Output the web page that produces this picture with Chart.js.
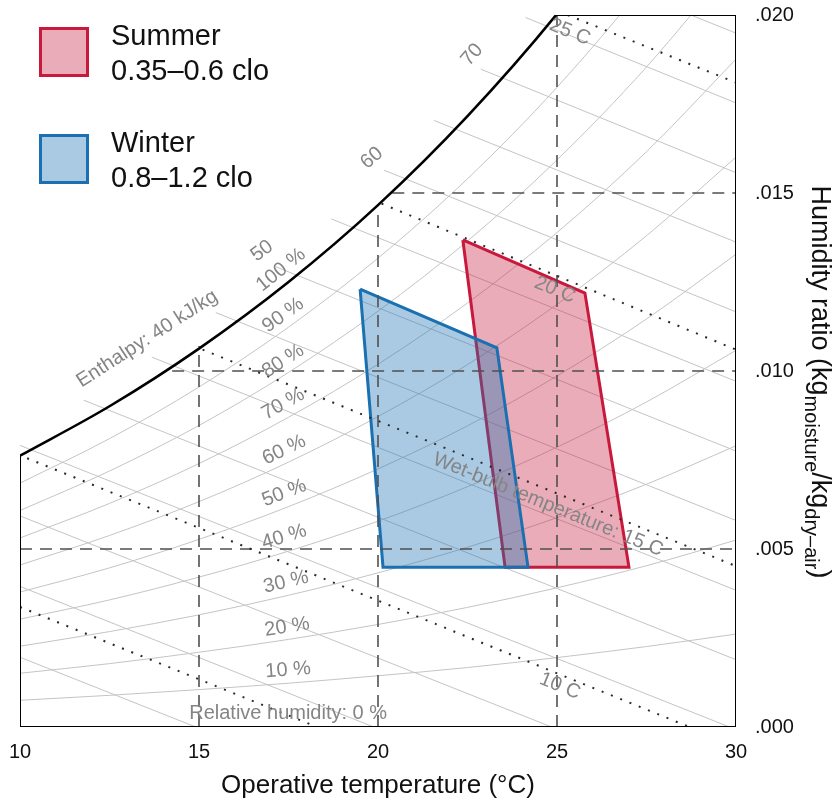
<!DOCTYPE html>
<html><head><meta charset="utf-8">
<script src="https://cdn.jsdelivr.net/npm/chart.js@4.4.1/dist/chart.umd.min.js"></script>
<style>html,body{margin:0;padding:0;background:#fff}#wrap{width:832px;height:805px}</style>
</head><body><div id="wrap"><canvas id="c" width="832" height="805"></canvas></div>
<script>
const FONT = '"Liberation Sans", Arial, Helvetica, sans-serif';

// ---- data ----
const gridTemps = [10, 12.5, 15, 17.5, 20, 22.5, 25, 27.5, 30];
const rh100 = [0.00762, 0.00901, 0.01063, 0.01250, 0.01466, 0.01716, 0.02003, 0.02334, 0.02714];
const rh90  = [0.00685, 0.00810, 0.00955, 0.01123, 0.01317, 0.01540, 0.01797, 0.02093, 0.02432];
const rh80  = [0.00608, 0.00719, 0.00847, 0.00996, 0.01168, 0.01365, 0.01593, 0.01854, 0.02153];
const rh70  = [0.00531, 0.00628, 0.00740, 0.00870, 0.01019, 0.01191, 0.01389, 0.01616, 0.01876];
const rh60  = [0.00455, 0.00538, 0.00633, 0.00744, 0.00872, 0.01018, 0.01187, 0.01380, 0.01601];
const rh50  = [0.00379, 0.00447, 0.00527, 0.00619, 0.00725, 0.00846, 0.00986, 0.01146, 0.01328];
const rh40  = [0.00303, 0.00357, 0.00421, 0.00494, 0.00578, 0.00675, 0.00786, 0.00913, 0.01058];
const rh30  = [0.00227, 0.00268, 0.00315, 0.00370, 0.00433, 0.00505, 0.00588, 0.00682, 0.00790];
const rh20  = [0.00151, 0.00178, 0.00210, 0.00246, 0.00288, 0.00336, 0.00391, 0.00453, 0.00525];
const rh10  = [0.00075, 0.00089, 0.00105, 0.00123, 0.00144, 0.00167, 0.00195, 0.00226, 0.00261];
const rhCurves = [rh90, rh80, rh70, rh60, rh50, rh40, rh30, rh20, rh10];
const rhLabels = ['100 %', '90 %', '80 %', '70 %', '60 %', '50 %', '40 %', '30 %', '20 %', '10 %'];
const rhLabelT = [17.29, 17.35, 17.35, 17.35, 17.38, 17.38, 17.38, 17.43, 17.46, 17.49];
const rhLabelW = [0.01284, 0.01157, 0.01028, 0.00907, 0.00778, 0.00657, 0.00534, 0.00407, 0.00281, 0.00160];
const rh0Label = 'Relative humidity: 0 %';
const rh0LabelT = 17.49, rh0LabelW = 0.00037;

// enthalpy lines (kJ/kg), straight segments
const enthalpyLevels = [15, 20, 25, 30, 35, 40, 45, 50, 55, 60, 65, 70, 75, 80];
const enthStartT = [10, 10, 10, 10, 11.78, 13.68, 15.47, 17.14, 18.70, 20.17, 21.56, 22.87, 24.12, 28.74];
const enthStartW = [0.00196, 0.00395, 0.00593, 0.00791, 0.00918, 0.01039, 0.01164, 0.01293, 0.01427, 0.01564, 0.01704, 0.01848, 0.01993, 0.02000];
const enthEndT   = [14.91, 19.88, 24.85, 29.82, 30, 30, 30, 30, 30, 30, 30, 30, 30, 30];
const enthEndW   = [0, 0, 0, 0, 0.00189, 0.00384, 0.00580, 0.00775, 0.00971, 0.01166, 0.01362, 0.01557, 0.01753, 0.01949];
const enthLabels = ['Enthalpy: 40 kJ/kg', '50', '60', '70'];
const enthLabelT = [13.55, 16.76, 19.83, 22.63];
const enthLabelW = [0.01090, 0.01337, 0.01598, 0.01888];

// wet-bulb lines (dotted)
const wetBulbStartT = [10, 10.2, 15.1, 20.1, 25.3];
const wetBulbStartW = [0.00337, 0.00755, 0.01060, 0.01470, 0.02000];
const wetBulbEndT   = [18.3, 28.7, 30, 30, 30];
const wetBulbEndW   = [0, 0, 0.00452, 0.01060, 0.01810];
const wetBulbLabels = ['10 C', 'Wet-bulb temperature: 15 C', '20 C', '25 C'];
const wetBulbLabelLine = [1, 2, 3, 4];
const wetBulbLabelT = [25.08, 24.75, 24.94, 25.36];
const wetBulbLabelW = [0.00115, 0.00624, 0.01228, 0.01952];

// dashed reference lines
const dashStartT = [15, 20, 25, 10, 14.25, 20.4];
const dashStartW = [0, 0, 0, 0.005, 0.010, 0.015];
const dashEndT   = [15, 20, 25, 30, 30, 30];
const dashEndW   = [0.0107, 0.0146, 0.0200, 0.005, 0.010, 0.015];

// frame (open above the saturation curve)
const frameT = [24.97, 30, 30, 10, 10];
const frameW = [0.0200, 0.0200, 0, 0, 0.00762];

// comfort zones
const summerT = [22.37, 25.78, 27.01, 23.55, 22.37];
const summerW = [0.01368, 0.01219, 0.00449, 0.00449, 0.01368];
const winterT = [19.50, 23.32, 24.19, 20.14, 19.50];
const winterW = [0.01230, 0.01065, 0.00449, 0.00449, 0.01230];
const summerLabel = ['Summer', '0.35–0.6 clo'];
const winterLabel = ['Winter', '0.8–1.2 clo'];

// x / y axis
const xTicksMin = 10, xTicksMax = 30, xTickStep = 5;
const yTicksMin = 0, yTicksMax = 0.02, yTickStep = 0.005;
const xTitle = 'Operative temperature (°C)';
const yTitleParts = ['Humidity ratio (kg', 'moisture', '/kg', 'dry–air', ')'];

// ---- build datasets ----
const pts = (T, W) => T.map((t, i) => ({x: t, y: W[i]}));
const datasets = [];
const GRAY = '#c4c4c4';

rhCurves.forEach(arr => datasets.push({
  data: pts(gridTemps, arr), showLine: true, borderColor: GRAY, borderWidth: 1,
  pointRadius: 0, cubicInterpolationMode: 'monotone', order: 10
}));
enthalpyLevels.forEach((h, i) => datasets.push({
  data: [{x: enthStartT[i], y: enthStartW[i]}, {x: enthEndT[i], y: enthEndW[i]}],
  showLine: true, borderColor: GRAY, borderWidth: 1, pointRadius: 0, order: 10
}));
const SUMMER_C = '#c8193c', WINTER_C = '#1a70b0';
datasets.push({
  label: summerLabel.join(' '), data: pts(summerT, summerW), showLine: true,
  borderColor: SUMMER_C, backgroundColor: 'rgba(200,25,60,0.36)', borderWidth: 3,
  borderJoinStyle: 'miter', fill: 'shape', pointRadius: 0, order: 7
});
datasets.push({
  label: winterLabel.join(' '), data: pts(winterT, winterW), showLine: true,
  borderColor: WINTER_C, backgroundColor: 'rgba(30,115,180,0.38)', borderWidth: 3,
  borderJoinStyle: 'miter', fill: 'shape', pointRadius: 0, order: 6
});
dashStartT.forEach((t, i) => datasets.push({
  data: [{x: t, y: dashStartW[i]}, {x: dashEndT[i], y: dashEndW[i]}],
  showLine: true, borderColor: '#505050', borderWidth: 1.6, borderDash: [12, 8],
  pointRadius: 0, order: 5
}));
wetBulbStartT.forEach((t, i) => datasets.push({
  data: [{x: t, y: wetBulbStartW[i]}, {x: wetBulbEndT[i], y: wetBulbEndW[i]}],
  showLine: true, borderColor: '#2a2a2a', borderWidth: 2, borderDash: [2, 8],
  pointRadius: 0, order: 4
}));
datasets.push({
  data: pts(gridTemps, rh100), showLine: true, borderColor: '#000', borderWidth: 2.6,
  pointRadius: 0, cubicInterpolationMode: 'monotone', order: 3
});
datasets.push({
  data: pts(frameT, frameW), showLine: true, borderColor: '#000', borderWidth: 2,
  pointRadius: 0, order: 3
});
const SUMMER_IDX = rhCurves.length + enthalpyLevels.length;
const WINTER_IDX = SUMMER_IDX + 1;

// ---- annotation plugin ----
const annotPlugin = {
  id: 'annot',
  afterDatasetsDraw(chart) {
    const {ctx} = chart; const xs = chart.scales.x, ys = chart.scales.y;
    const px = t => xs.getPixelForValue(t), py = w => ys.getPixelForValue(w);
    const angleOf = (t1, w1, t2, w2) => Math.atan2(py(w2) - py(w1), px(t2) - px(t1));
    ctx.save();
    ctx.fillStyle = '#858585';
    ctx.font = '20px ' + FONT;
    ctx.textAlign = 'center'; ctx.textBaseline = 'middle';
    const drawRot = (text, t, w, a) => {
      ctx.save(); ctx.translate(px(t), py(w)); ctx.rotate(a); ctx.fillText(text, 0, 0); ctx.restore();
    };
    const allRh = [rh100].concat(rhCurves);
    rhLabels.forEach((txt, i) => {
      const c = allRh[i];
      drawRot(txt, rhLabelT[i], rhLabelW[i], angleOf(gridTemps[2], c[2], gridTemps[4], c[4]));
    });
    drawRot(rh0Label, rh0LabelT, rh0LabelW, 0);
    enthLabels.forEach((txt, i) => {
      const t = enthLabelT[i];
      let k = 0; while (k < gridTemps.length - 2 && gridTemps[k + 1] <= t) k++;
      drawRot(txt, t, enthLabelW[i], angleOf(gridTemps[k], rh100[k], gridTemps[k + 1], rh100[k + 1]));
    });
    wetBulbLabels.forEach((txt, i) => {
      const j = wetBulbLabelLine[i];
      drawRot(txt, wetBulbLabelT[i], wetBulbLabelW[i],
        angleOf(wetBulbStartT[j], wetBulbStartW[j], wetBulbEndT[j], wetBulbEndW[j]));
    });
    ctx.restore();
  },
  afterDraw(chart) {
    const {ctx, chartArea} = chart;
    ctx.save();
    // legend
    const items = [[chart.data.datasets[SUMMER_IDX], summerLabel, 27], [chart.data.datasets[WINTER_IDX], winterLabel, 134]];
    items.forEach(([ds, lines, top]) => {
      ctx.fillStyle = '#fff'; ctx.fillRect(39, top, 50, 50);
      ctx.fillStyle = ds.backgroundColor; ctx.fillRect(39, top, 50, 50);
      ctx.strokeStyle = ds.borderColor; ctx.lineWidth = 3; ctx.strokeRect(40.5, top + 1.5, 47, 47);
      ctx.fillStyle = '#111'; ctx.font = '29px ' + FONT; ctx.textAlign = 'left'; ctx.textBaseline = 'alphabetic';
      ctx.fillText(lines[0], 111, top + 18);
      ctx.fillText(lines[1], 111, top + 53);
    });
    // y axis title (rotated, with subscripts)
    const sizes = [27, 20, 27, 20, 27], offs = [0, 7, 0, 7, 0];
    let total = 0;
    yTitleParts.forEach((p, i) => { ctx.font = sizes[i] + 'px ' + FONT; total += ctx.measureText(p).width; });
    const cy = (chartArea.top + chartArea.bottom) / 2 + 11;
    ctx.translate(812, cy - total / 2);
    ctx.rotate(Math.PI / 2);
    ctx.fillStyle = '#111'; ctx.textAlign = 'left'; ctx.textBaseline = 'alphabetic';
    let cur = 0;
    yTitleParts.forEach((p, i) => {
      ctx.font = sizes[i] + 'px ' + FONT;
      ctx.fillText(p, cur, offs[i]);
      cur += ctx.measureText(p).width;
    });
    ctx.restore();
  }
};

new Chart(document.getElementById('c'), {
  type: 'scatter',
  data: {datasets},
  options: {
    responsive: false, animation: false, events: [],
    layout: {padding: {left: 20, top: 15, right: 0, bottom: 0}},
    plugins: {legend: {display: false}, tooltip: {enabled: false}},
    scales: {
      x: {
        type: 'linear', position: 'bottom', min: xTicksMin, max: xTicksMax,
        grid: {display: false, drawTicks: false}, border: {display: false},
        ticks: {stepSize: xTickStep, padding: 13, color: '#111', maxRotation: 0, font: {family: FONT, size: 20}},
        title: {display: true, text: xTitle, color: '#111', font: {family: FONT, size: 26}, padding: {top: 0, bottom: 4}},
        afterFit(s) { s.height = 78; s.paddingLeft = 0; s.paddingRight = 0; }
      },
      y: {
        type: 'linear', position: 'right', min: yTicksMin, max: yTicksMax,
        grid: {display: false, drawTicks: false}, border: {display: false},
        ticks: {stepSize: yTickStep, padding: 19, color: '#111', font: {family: FONT, size: 20},
          callback: v => v.toFixed(3).replace(/^0/, '')},
        afterFit(s) { s.width = 96; s.paddingTop = 0; s.paddingBottom = 0; }
      }
    }
  },
  plugins: [annotPlugin]
});
</script></body></html>
